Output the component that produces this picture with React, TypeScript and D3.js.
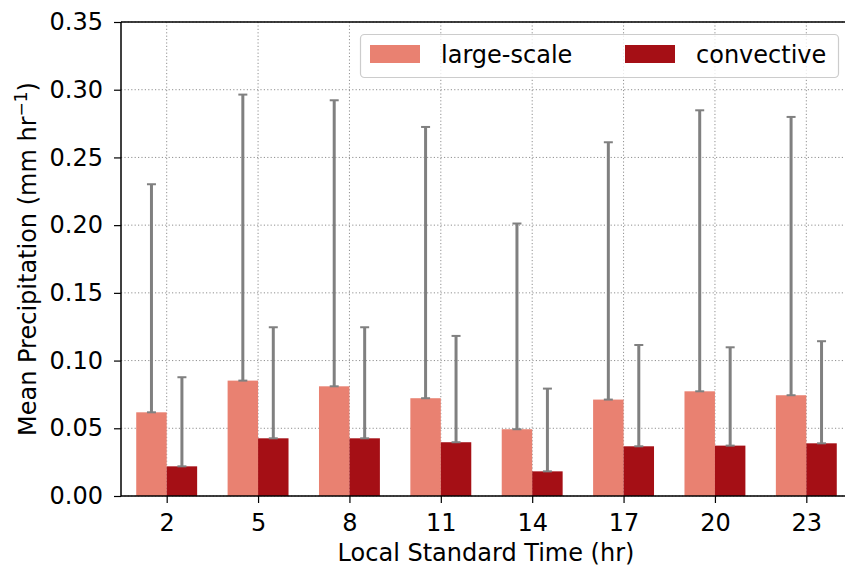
import { useEffect, useRef } from "react";
import * as d3 from "d3";

const hours = ["2", "5", "8", "11", "14", "17", "20", "23"];
const largeScale = [0.0618, 0.0852, 0.081, 0.0722, 0.0493, 0.0712, 0.0773, 0.0744];
const largeScaleUpper = [0.2302, 0.2964, 0.2922, 0.2725, 0.2012, 0.2612, 0.2848, 0.2799];
const convective = [0.0219, 0.0426, 0.0426, 0.0397, 0.0182, 0.0367, 0.0372, 0.0389];
const convectiveUpper = [0.0877, 0.1246, 0.1246, 0.1182, 0.0793, 0.1115, 0.1098, 0.1143];
const yTicks = [0, 0.05, 0.1, 0.15, 0.2, 0.25, 0.3, 0.35];

const LARGE_COLOR = "#e98171";
const CONV_COLOR = "#a50f15";
const ERR_COLOR = "#808080";
const FONT = "DejaVu Sans, sans-serif";
const FS = 24;

export default function App() {
  const svgRef = useRef<SVGSVGElement>(null);

  useEffect(() => {
    if (!svgRef.current) return;
    const width = 845;
    const height = 569;
    const left = 121;
    const top = 22;
    const bottom = 496;
    const right = 852;

    const svg = d3.select(svgRef.current);
    svg.selectAll("*").remove();
    svg.attr("width", width).attr("height", height).attr("font-family", FONT);

    const x = d3.scaleLinear().domain([-0.5, 7.5]).range([left, right]);
    const y = d3.scaleLinear().domain([0, 0.35]).range([bottom, top]);
    const bw = x(1 / 3) - x(0);

    // Grid
    const grid = svg.append("g").attr("stroke", "#909090").attr("stroke-width", 1).attr("stroke-dasharray", "1.2,2.2");
    yTicks.forEach((t) => {
      grid.append("line").attr("x1", left).attr("x2", right).attr("y1", y(t)).attr("y2", y(t));
    });
    hours.forEach((_, i) => {
      grid.append("line").attr("x1", x(i)).attr("x2", x(i)).attr("y1", top).attr("y2", bottom);
    });

    // Bars
    const series = [
      { vals: largeScale, upper: largeScaleUpper, color: LARGE_COLOR, off: -1 / 6 },
      { vals: convective, upper: convectiveUpper, color: CONV_COLOR, off: 1 / 6 },
    ];
    series.forEach((s) => {
      svg
        .append("g")
        .selectAll("rect")
        .data(s.vals)
        .enter()
        .append("rect")
        .attr("x", (_, i) => x(i + s.off) - bw / 2)
        .attr("width", bw)
        .attr("y", (d) => y(d))
        .attr("height", (d) => y(0) - y(d))
        .attr("fill", s.color);
    });

    // Error bars (upper only)
    series.forEach((s) => {
      const g = svg.append("g").attr("stroke", ERR_COLOR);
      s.vals.forEach((v, i) => {
        const cx = x(i + s.off);
        g.append("line").attr("x1", cx).attr("x2", cx).attr("y1", y(v)).attr("y2", y(s.upper[i])).attr("stroke-width", 3);
        [v, s.upper[i]].forEach((cv) => {
          g.append("line").attr("x1", cx - 4.5).attr("x2", cx + 4.5).attr("y1", y(cv)).attr("y2", y(cv)).attr("stroke-width", 2);
        });
      });
    });

    // Axes
    const yAxis = svg
      .append("g")
      .attr("transform", `translate(${left},0)`)
      .call(d3.axisLeft(y).tickValues(yTicks).tickSize(7).tickPadding(11).tickFormat(d3.format(".2f")));
    yAxis.select(".domain").remove();
    yAxis.selectAll(".tick line").attr("stroke", "#000").attr("stroke-width", 1.2);
    yAxis.selectAll("text").attr("font-size", FS).attr("font-family", FONT).attr("fill", "#000");

    const xAxis = svg
      .append("g")
      .attr("transform", `translate(0,${bottom})`)
      .call(
        d3
          .axisBottom(x)
          .tickValues(d3.range(hours.length))
          .tickSize(7)
          .tickPadding(11)
          .tickFormat((d) => hours[d as number])
      );
    xAxis.select(".domain").remove();
    xAxis.selectAll(".tick line").attr("stroke", "#000").attr("stroke-width", 1.2);
    xAxis.selectAll("text").attr("font-size", FS).attr("font-family", FONT).attr("fill", "#000");

    // Spines
    const spines = svg.append("g").attr("stroke", "#000").attr("stroke-width", 1.5);
    spines.append("line").attr("x1", left).attr("x2", left).attr("y1", top).attr("y2", bottom);
    spines.append("line").attr("x1", left).attr("x2", right).attr("y1", bottom).attr("y2", bottom);
    spines.append("line").attr("x1", left).attr("x2", right).attr("y1", top).attr("y2", top);
    spines.append("line").attr("x1", right).attr("x2", right).attr("y1", top).attr("y2", bottom);

    // Axis labels
    svg
      .append("text")
      .attr("x", 486)
      .attr("y", 561)
      .attr("text-anchor", "middle")
      .attr("font-size", FS)
      .text("Local Standard Time (hr)");

    const yl = svg
      .append("text")
      .attr("transform", `translate(36,${(top + bottom) / 2}) rotate(-90)`)
      .attr("text-anchor", "middle")
      .attr("font-size", FS);
    yl.append("tspan").text("Mean Precipitation (mm hr");
    yl.append("tspan").attr("font-size", 17).attr("dy", -9).text("−1");
    yl.append("tspan").attr("dy", 9).text(")");

    // Legend
    const lg = svg.append("g");
    lg.append("rect")
      .attr("x", 360.5)
      .attr("y", 34.5)
      .attr("width", 478)
      .attr("height", 43)
      .attr("rx", 4)
      .attr("fill", "rgba(255,255,255,0.8)")
      .attr("stroke", "#cccccc")
      .attr("stroke-width", 1.2);
    const items = [
      { label: "large-scale", color: LARGE_COLOR, px: 370, tx: 441 },
      { label: "convective", color: CONV_COLOR, px: 625, tx: 696 },
    ];
    items.forEach((it) => {
      lg.append("rect").attr("x", it.px).attr("y", 45).attr("width", 50).attr("height", 18).attr("fill", it.color);
      lg.append("text").attr("x", it.tx).attr("y", 63).attr("font-size", FS).text(it.label);
    });
  }, []);

  return <svg ref={svgRef} style={{ position: "absolute", left: 0, top: 0, background: "#fff" }} />;
}
